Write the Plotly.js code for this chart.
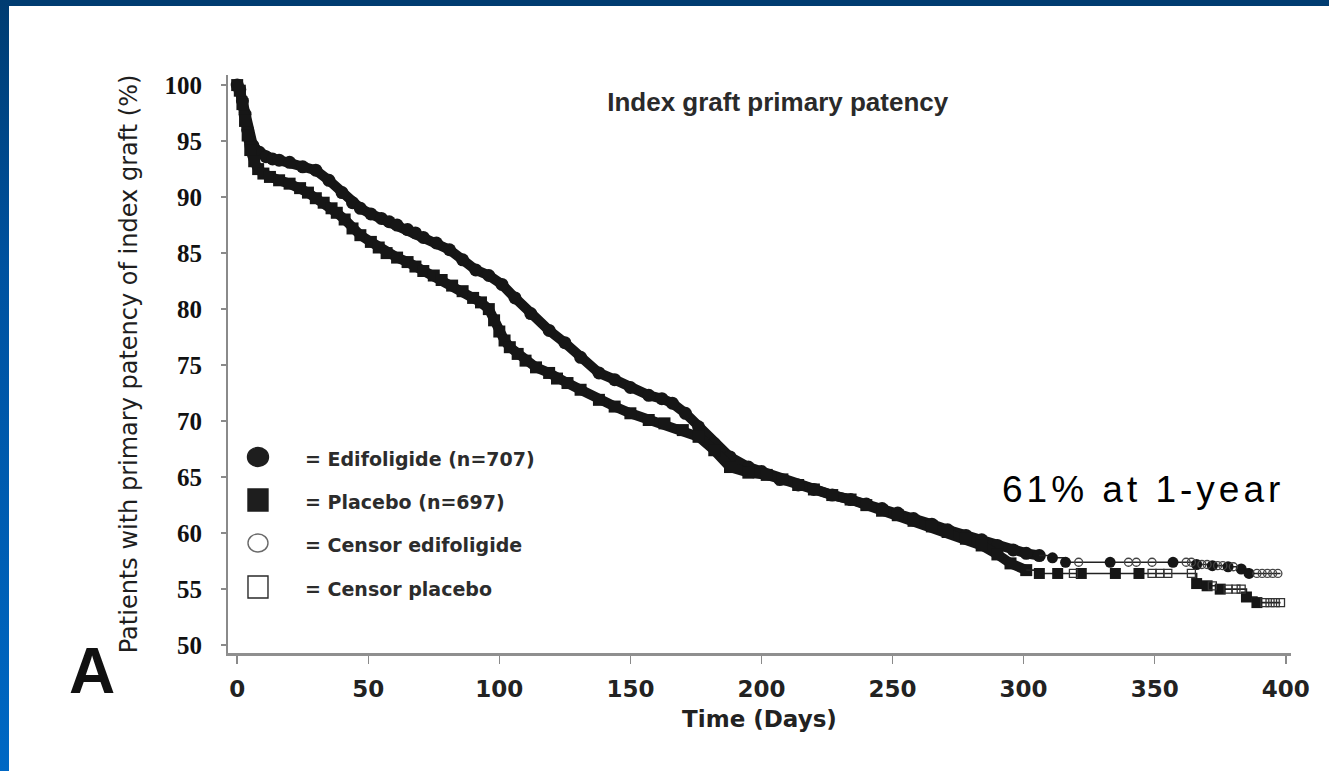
<!DOCTYPE html>
<html>
<head>
<meta charset="utf-8">
<script src="https://cdn.plot.ly/plotly-3.0.1.min.js"></script>
<style>
  html, body { margin: 0; padding: 0; background: #ffffff; }
  #page { position: relative; width: 1329px; height: 771px; overflow: hidden; background: #ffffff; }
  #band-top { position: absolute; left: 0; top: 0; width: 1329px; height: 6px; background: #003c71; z-index: 2; }
  #band-left { position: absolute; left: 0; top: 0; width: 9px; height: 771px; z-index: 2;
               background: linear-gradient(#003c71, #0052a0 35%, #0068c4); }
  #chart { position: absolute; left: 0; top: 0; width: 1329px; height: 771px; }
</style>
</head>
<body>
<div id="page">
  <div id="chart"></div>
  <div id="band-top"></div>
  <div id="band-left"></div>
</div>
<script>
// Kaplan-Meier estimates, primary patency of the index graft (%), by day

// Edifoligide arm: dense early part of the curve
const edifDays = [0, 1, 2, 3, 4, 6, 8.5, 11, 13.5, 16, 20, 25, 30, 35, 40, 44, 47, 51, 55, 58,
  61, 65, 68, 71, 76, 81, 86, 91, 96, 101, 106, 112, 119, 125, 131, 138, 144, 150, 157, 162,
  166, 171, 176, 182, 188, 195, 200, 207, 214, 220, 227, 234, 240, 246, 252, 258, 265, 271, 278, 284,
  290, 296, 301, 306];
const edifPct = [100, 99.6, 98.6, 97.4, 96.0, 94.6, 94.0, 93.6, 93.4, 93.3, 93.1, 92.7, 92.4, 91.5, 90.4, 89.5, 89.0, 88.5, 88.1, 87.8,
  87.5, 87.1, 86.8, 86.4, 85.9, 85.3, 84.4, 83.5, 83.0, 82.2, 81.0, 79.6, 78.1, 77.0, 75.7, 74.3, 73.7, 73.0, 72.3, 72.0,
  71.6, 70.7, 69.5, 68.0, 66.8, 65.9, 65.5, 64.8, 64.3, 63.9, 63.4, 63.0, 62.6, 62.2, 61.8, 61.3, 60.8, 60.3, 59.8, 59.4,
  58.9, 58.5, 58.2, 58.0];

// Edifoligide arm: sparse tail (step line, events and censored patients)
const edifTailDays = [306, 311, 316, 366, 372, 378, 383, 386, 398];
const edifTailPct = [58.0, 57.8, 57.4, 57.2, 57.1, 57.0, 56.8, 56.4, 56.4];
const edifEventDays = [311, 316, 333, 357, 366, 372, 378, 383, 386];
const edifEventPct = [57.8, 57.4, 57.4, 57.4, 57.2, 57.1, 57.0, 56.8, 56.4];
const edifCensorDays = [321, 340, 343, 349, 362, 364, 368, 370, 374, 376, 380, 389, 391, 393, 395, 397];
const edifCensorPct = [57.4, 57.4, 57.4, 57.4, 57.4, 57.4, 57.2, 57.2, 57.1, 57.1, 57.0, 56.4, 56.4, 56.4, 56.4, 56.4];

// Placebo arm: dense early part of the curve
const placDays = [0, 1, 2, 3, 4, 5, 6.5, 8, 10, 12.5, 16, 20, 24, 27, 30, 33, 36, 38, 41, 44,
  47, 51, 54, 57, 61, 65, 68, 71, 75, 78, 82, 86, 90, 93, 96, 98, 100, 102, 104, 107,
  110, 114, 119, 122, 126, 131, 138, 144, 150, 157, 163, 170, 176, 182, 188, 195, 202, 208, 214, 220,
  227, 234, 240, 246, 252, 258, 265, 271, 278, 284, 290, 295, 301];
const placPct = [100, 99.5, 98.3, 96.8, 95.5, 94.2, 93.2, 92.5, 92.1, 91.8, 91.5, 91.2, 90.8, 90.4, 89.9, 89.5, 89.0, 88.6, 88.0, 87.2,
  86.6, 86.0, 85.5, 85.0, 84.6, 84.2, 83.8, 83.4, 83.0, 82.6, 82.1, 81.6, 81.0, 80.6, 80.0, 79.0, 78.0, 77.2, 76.6, 76.0,
  75.4, 74.8, 74.3, 73.8, 73.4, 72.8, 71.9, 71.3, 70.7, 70.1, 69.8, 69.2, 68.6, 67.4, 65.9, 65.4, 65.2, 64.8, 64.3, 63.9,
  63.4, 63.0, 62.5, 62.0, 61.6, 61.1, 60.6, 60.1, 59.5, 58.9, 58.1, 57.3, 56.7];

// Placebo arm: sparse tail
const placTailDays = [301, 306, 366, 370, 375, 385, 389, 398];
const placTailPct = [56.7, 56.4, 55.5, 55.3, 55.0, 54.3, 53.8, 53.8];
const placEventDays = [306, 313, 322, 335, 344, 366, 370, 375, 385, 389];
const placEventPct = [56.4, 56.4, 56.4, 56.4, 56.4, 55.5, 55.3, 55.0, 54.3, 53.8];
const placCensorDays = [319, 349, 352, 355, 364, 372, 378, 381, 383, 392, 394, 396, 398];
const placCensorPct = [56.4, 56.4, 56.4, 56.4, 56.4, 55.3, 55.0, 55.0, 55.0, 53.8, 53.8, 53.8, 53.8];

// Axis ticks and texts
const xTicks = [0, 50, 100, 150, 200, 250, 300, 350, 400];
const yTicks = [50, 55, 60, 65, 70, 75, 80, 85, 90, 95, 100];
const legendLabels = ['= Edifoligide (n=707)', '= Placebo (n=697)', '= Censor edifoligide', '= Censor placebo'];
const chartTitle = 'Index graft primary patency';
const xTitle = 'Time (Days)';
const yTitle = 'Patients with primary patency of index graft (%)';
const noteText = '61% at 1-year';
const panelLetter = 'A';

const INK = '#161616';

const traces = [
  { x: edifDays, y: edifPct, mode: 'lines+markers', name: 'Edifoligide',
    line: { color: INK, width: 10, shape: 'linear' },
    marker: { symbol: 'circle', size: 13, color: INK } },
  { x: placDays, y: placPct, mode: 'lines+markers', name: 'Placebo',
    line: { color: INK, width: 10, shape: 'linear' },
    marker: { symbol: 'square', size: 12, color: INK } },
  { x: edifTailDays, y: edifTailPct, mode: 'lines', line: { color: '#222', width: 1.6, shape: 'hv' } },
  { x: placTailDays, y: placTailPct, mode: 'lines', line: { color: '#222', width: 1.6, shape: 'hv' } },
  { x: edifEventDays, y: edifEventPct, mode: 'markers',
    marker: { symbol: 'circle', size: 11, color: INK } },
  { x: placEventDays, y: placEventPct, mode: 'markers',
    marker: { symbol: 'square', size: 11, color: INK } },
  { x: edifCensorDays, y: edifCensorPct, mode: 'markers',
    marker: { symbol: 'circle-open', size: 8, color: '#444', line: { width: 1.3 } } },
  { x: placCensorDays, y: placCensorPct, mode: 'markers',
    marker: { symbol: 'square-open', size: 8, color: '#333', line: { width: 1.3 } } }
];

// Plot area: x from 228 px to 1291.5 px, y from 75 px to 653 px
const L = 228, R = 1291.5, T = 75, B = 653;
const px = v => (v - L) / (R - L);
const py = v => (B - v) / (B - T);

// Hand-made key in the lower-left corner
const keyRows = [457, 500, 543, 587];
const keySymbols = [
  { type: 'circle', fill: '#1e1e1e', line: '#1e1e1e', w: 21, h: 19 },
  { type: 'rect', fill: '#1e1e1e', line: '#1e1e1e', w: 20, h: 22 },
  { type: 'circle', fill: 'rgba(0,0,0,0)', line: '#6a6a6a', w: 20, h: 18 },
  { type: 'rect', fill: 'rgba(0,0,0,0)', line: '#2a2a2a', w: 20, h: 22 }
];
const shapes = keySymbols.map((s, i) => ({
  type: s.type, xref: 'paper', yref: 'paper',
  xsizemode: 'pixel', ysizemode: 'pixel',
  xanchor: px(258), yanchor: py(keyRows[i]),
  x0: -s.w / 2, x1: s.w / 2, y0: -s.h / 2, y1: s.h / 2,
  fillcolor: s.fill, line: { color: s.line, width: 1.4 }
}));

const annotations = legendLabels.map((t, i) => ({
  text: t, xref: 'paper', yref: 'paper', x: px(303), y: py(keyRows[i] + 2),
  xanchor: 'left', yanchor: 'middle', showarrow: false,
  font: { family: 'DejaVu Sans', size: 19, weight: 'bold', color: '#2c2c2c' }
}));
annotations.push({
  text: '<span style="letter-spacing:4px">' + noteText + '</span>',
  xref: 'paper', yref: 'paper', x: px(1143), y: py(489),
  xanchor: 'center', yanchor: 'middle', showarrow: false,
  font: { family: 'Liberation Sans', size: 37, color: '#000' }
});
annotations.push({
  text: panelLetter, xref: 'paper', yref: 'paper', x: px(92), y: py(671),
  xanchor: 'center', yanchor: 'middle', showarrow: false,
  font: { family: 'Liberation Sans', size: 64, weight: 'bold', color: '#111' }
});

const layout = {
  width: 1329, height: 771,
  margin: { l: L, r: 1329 - R, t: T, b: 771 - B, pad: 0 },
  paper_bgcolor: 'rgba(0,0,0,0)', plot_bgcolor: 'rgba(0,0,0,0)',
  showlegend: false,
  title: {
    text: chartTitle, xref: 'paper', x: px(778), xanchor: 'center',
    yref: 'container', y: 1 - 102 / 771, yanchor: 'middle',
    font: { family: 'Liberation Sans', size: 26, weight: 'bold', color: '#2a2a2a' }
  },
  xaxis: {
    range: [-3.5, 402], tickvals: xTicks, ticktext: xTicks.map(String),
    ticks: 'outside', ticklen: 8, tickwidth: 1.5, tickcolor: '#8a8a8a',
    showline: true, linecolor: '#8f8f8f', linewidth: 2.5,
    showgrid: false, zeroline: false, ticklabelstandoff: 6,
    tickfont: { family: 'DejaVu Sans', size: 23, weight: 'bold', color: '#222' },
    title: { text: xTitle, standoff: 10,
             font: { family: 'DejaVu Sans', size: 23, weight: 'bold', color: '#222' } }
  },
  yaxis: {
    range: [49.3, 100.9], tickvals: yTicks, ticktext: yTicks.map(String),
    ticks: 'outside', ticklen: 5, tickwidth: 1.5, tickcolor: '#8a8a8a',
    showline: true, linecolor: '#8a8a8a', linewidth: 2,
    showgrid: false, zeroline: false, ticklabelstandoff: 14,
    tickfont: { family: 'Liberation Serif', size: 25, weight: 'bold', color: '#111' },
    title: { text: yTitle, standoff: 20,
             font: { family: 'DejaVu Sans', size: 24, color: '#1e1e1e' } }
  },
  shapes: shapes,
  annotations: annotations
};

Plotly.newPlot('chart', traces, layout, { displayModeBar: false, staticPlot: true });
</script>
</body>
</html>
